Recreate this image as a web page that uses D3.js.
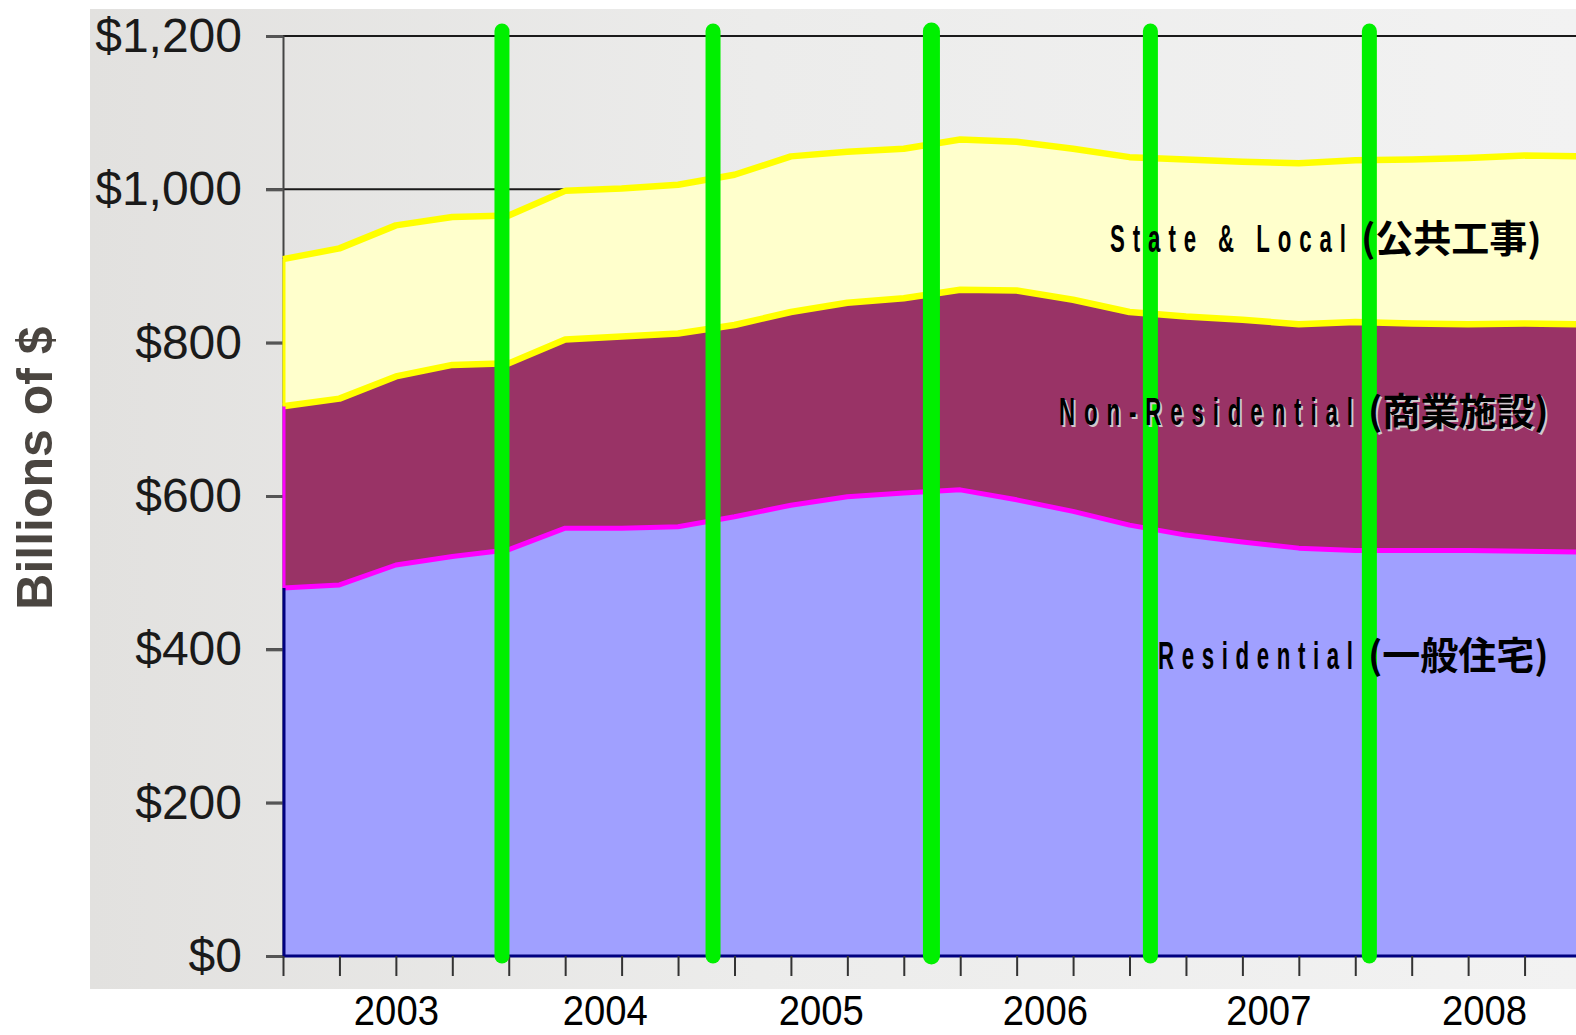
<!DOCTYPE html>
<html>
<head>
<meta charset="utf-8">
<script src="https://cdn.jsdelivr.net/npm/d3@7"></script>
<style>
  body { margin: 0; background: #fff; }
  svg { display: block; }
</style>
</head>
<body>
<script>
// stacked construction spending, billions of $, one value per quarter tick
const residential = [480, 484, 510, 521, 530, 558, 558, 560, 573, 588, 599, 604, 608, 595, 580, 562, 549, 540, 532, 529, 529, 529, 528, 527];
const nonResidential = [237, 243, 246, 250, 243, 246, 250, 252, 250, 252, 253, 254, 261, 273, 276, 278, 285, 290, 292, 298, 296, 295, 297, 297];
const stateLocal = [192, 196, 197, 193, 193, 194, 193, 194, 196, 203, 197, 195, 196, 194, 197, 202, 205, 206, 210, 211, 214, 217, 219, 219];

const years = ['2003', '2004', '2005', '2006', '2007', '2008'];
const yearPos = [2.0, 5.7, 9.53, 13.5, 17.46, 21.28];      // in quarter-index units
const dividers = [3.88, 7.62, 11.49, 15.37, 19.25];       // green year separators
const yTicks = [0, 200, 400, 600, 800, 1000, 1200];

const seriesKeys = ['residential', 'nonResidential', 'stateLocal'];
const labelEn = ['Residential', 'Non-Residential', 'State & Local'];
const labelJa = ['(一般住宅)', '(商業施設)', '(公共工事)'];

// layout only
const width = 1576, height = 1035;
const fills = ['#a0a0ff', '#993366', '#ffffcc'];
const edges = ['#ff00ff', '#ffff00', '#ffff00'];
const leftEdges = ['#000080', '#ff00ff', '#ffff00'];
const labelLayout = [
  { anchor: 1368, len: 195, base: 669, shadow: false },
  { anchor: 1368, len: 294, base: 425, shadow: true },
  { anchor: 1361, len: 236, base: 252, shadow: false },
];

const table = residential.map((d, i) => ({
  i,
  residential: d,
  nonResidential: nonResidential[i],
  stateLocal: stateLocal[i],
}));

const x = d3.scaleLinear().domain([0, 23]).range([283, 1581]);
const y = d3.scaleLinear().domain([0, 1200]).range([956, 36]);

const svg = d3.select('body').append('svg')
  .attr('width', width).attr('height', height)
  .style('font-family', '"Liberation Sans", Arial, sans-serif');

const defs = svg.append('defs');
const grad = defs.append('linearGradient').attr('id', 'bg').attr('x1', 0).attr('x2', 1).attr('y1', 0).attr('y2', 0);
grad.append('stop').attr('offset', '0%').attr('stop-color', '#e2e1df');
grad.append('stop').attr('offset', '45%').attr('stop-color', '#ececeb');
grad.append('stop').attr('offset', '100%').attr('stop-color', '#f2f2f2');

svg.append('rect')
  .attr('x', 90).attr('y', 9)
  .attr('width', width - 90).attr('height', 980)
  .attr('fill', 'url(#bg)');

// gridlines (behind the areas)
svg.append('g')
  .selectAll('line')
  .data(yTicks.filter(d => d > 0))
  .enter()
  .append('line')
  .attr('x1', x(0) - 17).attr('x2', width)
  .attr('y1', d => y(d)).attr('y2', d => y(d))
  .attr('stroke', '#1a1a1a')
  .attr('stroke-width', 2);

// y axis
const yAxis = svg.append('g')
  .attr('transform', `translate(${x(0)},0)`)
  .call(d3.axisLeft(y).tickValues(yTicks).tickSize(17).tickPadding(24)
    .tickFormat(d => '$' + d3.format(',')(d)));
yAxis.select('.domain').attr('stroke', '#444').attr('stroke-width', 2);
yAxis.selectAll('.tick line').attr('stroke', '#555').attr('stroke-width', 3);
yAxis.selectAll('.tick text')
  .attr('font-size', 48)
  .attr('fill', '#1a1a1a')
  .attr('font-family', '"Liberation Sans", Arial, sans-serif');

// stacked areas
const stacked = d3.stack().keys(seriesKeys)(table);

const area = d3.area()
  .x(d => x(d.data.i))
  .y0(d => y(d[0]))
  .y1(d => y(d[1]));

const topLine = d3.line()
  .x(d => x(d.data.i))
  .y(d => y(d[1]));

const plot = svg.append('g');

plot.selectAll('path.area')
  .data(stacked)
  .enter()
  .append('path')
  .attr('class', 'area')
  .attr('d', area)
  .attr('fill', (d, i) => fills[i]);

plot.selectAll('path.edge')
  .data(stacked)
  .enter()
  .append('path')
  .attr('class', 'edge')
  .attr('d', topLine)
  .attr('fill', 'none')
  .attr('stroke', (d, i) => edges[i])
  .attr('stroke-width', (d, i) => (i === 0 ? 5 : 6.5))
  .attr('stroke-linejoin', 'round');

// left edges of each band
plot.selectAll('line.left')
  .data(stacked)
  .enter()
  .append('line')
  .attr('class', 'left')
  .attr('x1', x(0) + 1).attr('x2', x(0) + 1)
  .attr('y1', d => y(d[0][0]))
  .attr('y2', d => y(d[0][1]))
  .attr('stroke', (d, i) => leftEdges[i])
  .attr('stroke-width', 3);

// bottom edge of residential
plot.append('line')
  .attr('x1', x(0)).attr('x2', width)
  .attr('y1', y(0)).attr('y2', y(0))
  .attr('stroke', '#000080')
  .attr('stroke-width', 3);

// x axis quarter ticks
const xTicks = svg.append('g')
  .attr('transform', `translate(0,${y(0)})`)
  .call(d3.axisBottom(x).tickValues(table.map(d => d.i)).tickSize(20).tickFormat(''));
xTicks.select('.domain').remove();
xTicks.selectAll('.tick line').attr('stroke', '#333').attr('stroke-width', 2);

// year labels
const xYears = svg.append('g')
  .attr('transform', `translate(0,${y(0)})`)
  .call(d3.axisBottom(x).tickValues(yearPos).tickSize(0).tickPadding(38)
    .tickFormat((d, i) => years[i]));
xYears.select('.domain').remove();
xYears.selectAll('.tick text')
  .attr('font-size', 43)
  .attr('fill', '#000')
  .attr('transform', 'scale(0.89,1)')
  .attr('font-family', '"Liberation Sans", Arial, sans-serif');

// green year separators
svg.append('g')
  .selectAll('line')
  .data(dividers)
  .enter()
  .append('line')
  .attr('x1', d => x(d)).attr('x2', d => x(d))
  .attr('y1', y(1200) - 5).attr('y2', y(0))
  .attr('stroke', '#00f000')
  .attr('stroke-width', (d, i) => (i === 2 ? 17 : 15))
  .attr('stroke-linecap', 'round');

// series labels
const labels = svg.append('g');
labelLayout.forEach((L, i) => {
  const sx = 0.57;
  const drawEn = (dx, dy, color) => {
    labels.append('g')
      .attr('transform', `translate(${L.anchor - 15 - L.len + dx},${L.base + dy}) scale(${sx},1)`)
      .append('text')
      .attr('x', 0).attr('y', 0)
      .attr('textLength', L.len / sx)
      .attr('lengthAdjust', 'spacing')
      .attr('font-size', 39)
      .attr('font-weight', 'bold')
      .attr('fill', color)
      .text(labelEn[i]);
  };
  const drawJa = (dx, dy, color) => {
    labels.append('text')
      .attr('x', L.anchor + dx).attr('y', L.base + dy)
      .attr('font-family', '"Noto Sans CJK JP", "Noto Sans CJK TC", sans-serif')
      .attr('font-size', 38)
      .attr('font-weight', 'bold')
      .attr('fill', color)
      .text(labelJa[i]);
  };
  if (L.shadow) {
    drawEn(2, 2, '#d0c8cc');
    drawJa(2, 2, '#d0c8cc');
  }
  drawEn(0, 0, '#000');
  drawJa(0, 0, '#000');
});

// y axis title
svg.append('text')
  .attr('transform', 'translate(52,468) rotate(-90)')
  .attr('text-anchor', 'middle')
  .attr('font-size', 50)
  .attr('font-weight', 'bold')
  .attr('fill', '#4a4540')
  .text('Billions of $');
</script>
</body>
</html>
